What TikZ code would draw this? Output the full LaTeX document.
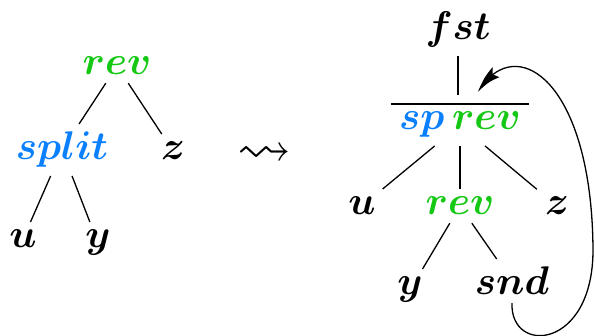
\RequirePackage{fix-cm}
\documentclass[tikz,border=0pt]{standalone}
\usepackage{amssymb}
\usetikzlibrary{arrows.meta,bending}
\definecolor{tgreen}{RGB}{20,200,20}
\definecolor{tblue}{RGB}{10,128,255}
\tikzset{
  lbl/.style={inner sep=8pt, anchor=base, font=\fontsize{40}{48}\selectfont\boldmath},
  edge/.style={line width=1.3pt},
}
\begin{document}
\begin{tikzpicture}[x=1pt,y=-1pt]
\useasboundingbox (0,0) rectangle (595,336);
% left tree
\node[lbl] (rev) at (117,75) {$\textcolor{tgreen}{rev}$};
\node[lbl] (split) at (62,160) {$\textcolor{tblue}{split}$};
\node[lbl] (z) at (173,160) {$z$};
\node[lbl] (u) at (23,248) {$u$};
\node[lbl] (y) at (98,248) {$y$};
\draw[edge] (rev) -- (split);
\draw[edge] (rev) -- (z);
\draw[edge] (split) -- (u);
\draw[edge] (split) -- (y);
% squiggle
\node[lbl, font=\fontsize{54}{60}\selectfont] (sq) at (264,166) {$\leadsto$};
% right tree
\node[lbl] (fst) at (458,40) {$fst$};
\node[lbl] (spr) at (460,130) {$\textcolor{tblue}{sp}\,\textcolor{tgreen}{rev}$};
\draw[edge] (spr.north west) -- (spr.north east);
\node[lbl] (u2) at (362,215) {$u$};
\node[lbl] (rev2) at (460,215) {$\textcolor{tgreen}{rev}$};
\node[lbl] (z2) at (557,215) {$z$};
\node[lbl] (y2) at (410,295) {$y$};
\node[lbl] (snd) at (512,295) {$snd$};
\draw[edge, shorten >=9pt] (fst) -- (fst |- spr.north);
\draw[edge] (spr) -- (u2);
\draw[edge] (spr) -- (rev2);
\draw[edge] (spr) -- (z2);
\draw[edge] (rev2) -- (y2);
\draw[edge] (rev2) -- (snd);
\coordinate (tgt) at (478,92);
\draw[edge, -{Stealth[length=30pt,width=12pt,inset=5pt,bend]}]
  (snd.south) .. controls (510,355) and (593,350) .. (593,250)
  .. controls (592,80) and (515,30) .. (tgt);
\end{tikzpicture}
\end{document}
